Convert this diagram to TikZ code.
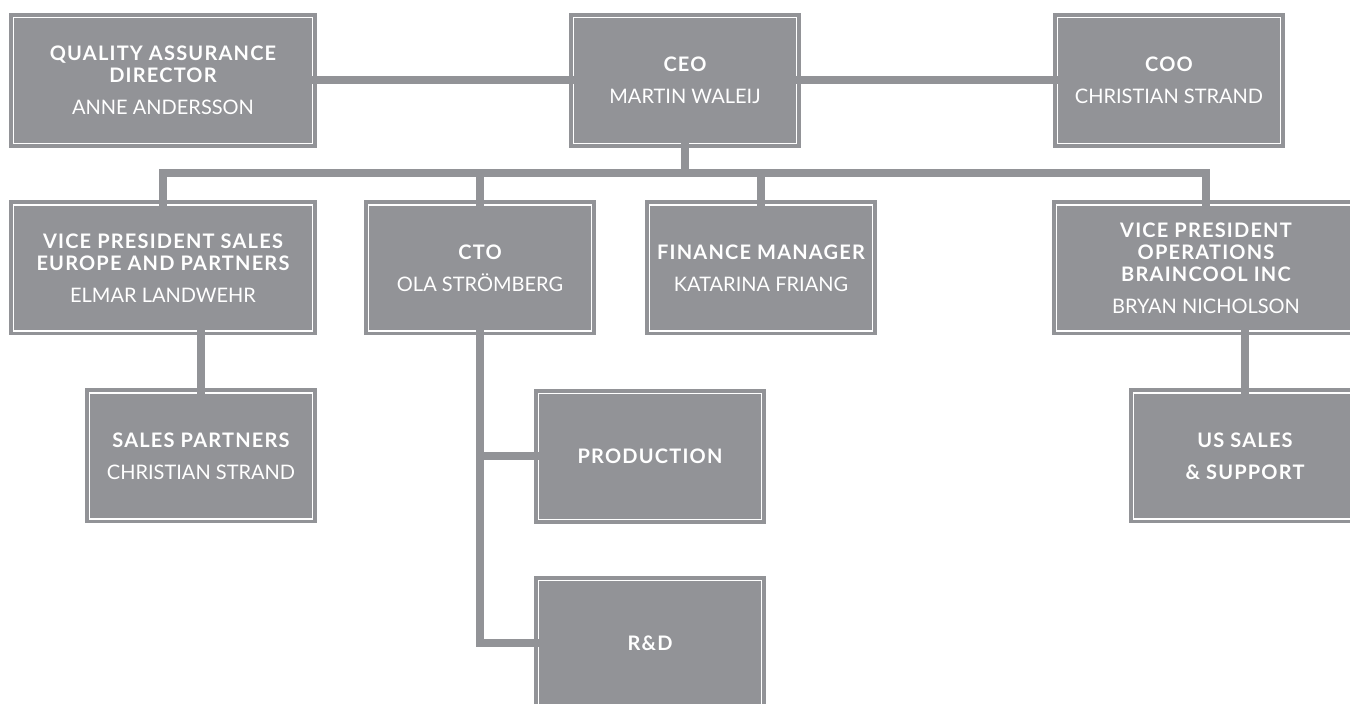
\documentclass[tikz,border=0pt]{standalone}
\usepackage{fontspec}
\setmainfont{Lato}
\newfontfamily\titlefont[LetterSpace=6]{Lato}
\definecolor{boxgray}{RGB}{146,147,151}
\newcommand{\ttl}[1]{{\titlefont\bfseries\fontsize{10}{11}\selectfont #1}}

\begin{document}
\begin{tikzpicture}[x=0.5pt,y=-0.5pt,
    box/.style={fill=boxgray, draw=white, line width=0.75pt,
      preaction={draw=boxgray, line width=4.5pt},
      text=white, align=center, inner sep=0pt, outer sep=0pt,
      font=\fontsize{10}{11}\selectfont,
      minimum width=111.5pt, minimum height=63pt},
    wide/.style={minimum width=149.5pt},
    link/.style={draw=boxgray, line width=4pt, shorten <=-1pt, shorten >=-1pt}]
    \useasboundingbox (0,0) rectangle (1350,704);
    \clip (0,0) rectangle (1350,704);

    % top row
    \node(qa)[box,wide] at (163,80.5) {\ttl{QUALITY ASSURANCE}\\\ttl{DIRECTOR}\\[5pt]ANNE ANDERSSON};
    \node(ceo)[box] at (685,80.5) {\ttl{CEO}\\[5pt]MARTIN WALEIJ};
    \node(coo)[box] at (1169,80.5) {\ttl{COO}\\[5pt]CHRISTIAN STRAND};

    % second row
    \node(vps)[box,wide] at (163,268) {\ttl{VICE PRESIDENT SALES}\\\ttl{EUROPE AND PARTNERS}\\[5pt]ELMAR LANDWEHR};
    \node(cto)[box] at (480,268) {\ttl{CTO}\\[5pt]OLA STRÖMBERG};
    \node(fin)[box] at (761,268) {\ttl{FINANCE MANAGER}\\[5pt]KATARINA FRIANG};
    \node(vpo)[box,wide] at (1206,268) {\ttl{VICE PRESIDENT}\\\ttl{OPERATIONS}\\\ttl{BRAINCOOL INC}\\[5pt]BRYAN NICHOLSON};

    % lower boxes
    \node(sp)[box] at (201,456) {\ttl{SALES PARTNERS}\\[5pt]CHRISTIAN STRAND};
    \node(prod)[box] at (650,456.5) {\ttl{PRODUCTION}};
    \node(rd)[box] at (650,643.5) {\ttl{R\&D}};
    \node(us)[box] at (1245,456) {\ttl{US SALES}\\[5pt]\ttl{\& SUPPORT}};

    \coordinate (bus) at (685,173);

    \draw[link] (qa.east) -- (ceo.west);
    \draw[link] (ceo.east) -- (coo.west);
    \draw[link] (ceo.south) -- (ceo.south |- bus);
    \draw[link] (vps.north) -- (vps.north |- bus) -- (vpo.north |- bus) -- (vpo.north);
    \draw[link] (cto.north |- bus) -- (cto.north);
    \draw[link] (fin.north |- bus) -- (fin.north);
    \draw[link] (vps.south -| sp.north) -- (sp.north);
    \draw[link] (vpo.south -| us.north) -- (us.north);
    \draw[link] (cto.south) |- (rd.west);
    \draw[link] (cto.south |- prod.west) -- (prod.west);
  \end{tikzpicture}
\end{document}
